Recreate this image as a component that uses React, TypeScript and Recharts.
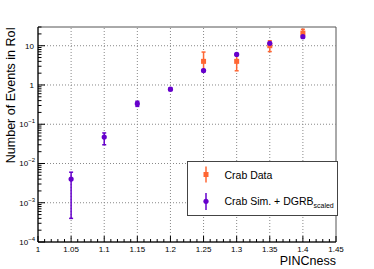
import React from 'react';
import { ScatterChart, Scatter, XAxis, YAxis, ErrorBar, ReferenceLine, ReferenceArea } from 'recharts';

const seriesNames = ['Crab Data', 'Crab Sim. + DGRB'];
const seriesSub = ['', 'scaled'];
const seriesColors = ['#ff6633', '#6600cc'];

const dataX = [1.25, 1.3, 1.35, 1.4];
const dataY = [4, 4, 10, 21];
const dataErrLow = [1.6, 1.7, 2.9, 3.5];
const dataErrHigh = [2.9, 1.9, 3.4, 5.2];

const simX = [1.05, 1.1, 1.15, 1.2, 1.25, 1.3, 1.35, 1.4];
const simY = [0.004, 0.047, 0.335, 0.78, 2.33, 6.0, 11.5, 17];
const simErrLow = [0.0036, 0.017, 0.05, 0.06, 0.15, 0.3, 0.6, 0.9];
const simErrHigh = [0.002, 0.013, 0.05, 0.06, 0.15, 0.3, 0.6, 0.9];

const xMajorTicks = [1, 1.05, 1.1, 1.15, 1.2, 1.25, 1.3, 1.35, 1.4, 1.45];
const xMinorPerMajor = [0.01, 0.02, 0.03, 0.04];
const yDecades = [1e-4, 1e-3, 1e-2, 1e-1, 1, 10];
const yMinorMultipliers = [2, 3, 4, 5, 6, 7, 8, 9];
const xDomain = [1, 1.45];
const yDomain = [1e-4, 30];

const xTicks: number[] = [];
xMajorTicks.forEach((m, i) => {
  xTicks.push(m);
  if (i < xMajorTicks.length - 1) xMinorPerMajor.forEach((d) => xTicks.push(+(m + d).toFixed(3)));
});
const yTicks: number[] = [];
yDecades.forEach((d) => {
  yTicks.push(d);
  yMinorMultipliers.forEach((k) => {
    const v = k * d;
    if (v <= yDomain[1]) yTicks.push(v);
  });
});

const crabData = dataX.map((x, i) => ({ x, y: dataY[i], err: [dataErrLow[i], dataErrHigh[i]] }));
const simData = simX.map((x, i) => ({ x, y: simY[i], err: [simErrLow[i], simErrHigh[i]] }));

const FONT = '"Liberation Sans", Arial, Helvetica, sans-serif';

const XTick = (props: any) => {
  const { x, y, payload } = props;
  const v = payload.value;
  const major = Math.abs(v * 20 - Math.round(v * 20)) < 1e-6;
  return (
    <g>
      <line x1={x} x2={x} y1={y} y2={y - (major ? 6 : 3)} stroke="#000" strokeWidth={1} />
      {major && (
        <text x={x} y={y + 9.5} textAnchor="middle" fontSize={8} fontFamily={FONT} fill="#000">
          {String(Number(v.toFixed(2)))}
        </text>
      )}
    </g>
  );
};

const YTick = (props: any) => {
  const { x, y, payload } = props;
  const v = payload.value;
  const lg = Math.log10(v);
  const e = Math.round(lg);
  const major = Math.abs(lg - e) < 1e-6;
  let label: any = null;
  if (major) {
    if (e === 0 || e === 1) {
      label = (
        <text x={x - 4} y={y + 3} textAnchor="end" fontSize={8} fontFamily={FONT} fill="#000">
          {e === 0 ? '1' : '10'}
        </text>
      );
    } else {
      label = (
        <text x={x - 3} y={y + 3} textAnchor="end" fontSize={8} fontFamily={FONT} fill="#000">
          10
          <tspan fontSize={6} dy={-4}>{'\u2212' + String(-e)}</tspan>
        </text>
      );
    }
  }
  return (
    <g>
      <line x1={x} x2={x + (major ? 7 : 3.5)} y1={y} y2={y} stroke="#000" strokeWidth={1} />
      {label}
    </g>
  );
};

const squareShape = (color: string) => (p: any) => (
  <rect x={p.cx - 2.5} y={p.cy - 2.5} width={5} height={5} fill={color} />
);
const circleShape = (color: string) => (p: any) => <circle cx={p.cx} cy={p.cy} r={2.6} fill={color} />;

export default function App() {
  return (
    <div style={{ position: 'absolute', left: 0, top: 0, width: 374, height: 269, background: '#fff' }}>
      <ScatterChart width={374} height={269} margin={{ top: 27, right: 38, left: 0, bottom: 0 }}>
        <ReferenceArea
          x1={xDomain[0]}
          x2={xDomain[1]}
          y1={yDomain[0]}
          y2={yDomain[1]}
          fill="none"
          stroke="#555"
          strokeWidth={1}
          ifOverflow="visible"
        />
        {yDecades.slice(1).map((d) => (
          <ReferenceLine key={'gy' + d} y={d} stroke="#888" strokeDasharray="1 2" strokeWidth={1} />
        ))}
        {xMajorTicks.slice(1, -1).map((v) => (
          <ReferenceLine key={'gx' + v} x={v} stroke="#888" strokeDasharray="1 2" strokeWidth={1} />
        ))}
        <XAxis
          type="number"
          dataKey="x"
          domain={xDomain}
          allowDataOverflow
          ticks={xTicks}
          interval={0}
          tickSize={0}
          tickMargin={0}
          tickLine={false}
          tick={<XTick />}
          height={27}
          axisLine={{ stroke: '#000' }}
          label={{
            content: () => (
              <text x={336} y={265} textAnchor="end" fontSize={12.5} fontFamily={FONT} fill="#000">
                PINCness
              </text>
            ),
          }}
        />
        <YAxis
          type="number"
          dataKey="y"
          scale="log"
          domain={yDomain}
          allowDataOverflow
          ticks={yTicks}
          interval={0}
          tickSize={0}
          tickMargin={0}
          tickLine={false}
          tick={<YTick />}
          width={38}
          axisLine={{ stroke: '#000' }}
          label={{
            content: () => (
              <text
                x={15}
                y={27}
                transform="rotate(-90 15 27)"
                textAnchor="end"
                fontSize={12.5}
                fontFamily={FONT}
                fill="#000"
              >
                Number of Events in RoI
              </text>
            ),
          }}
        />
        <Scatter data={crabData} isAnimationActive={false} shape={squareShape(seriesColors[0])}>
          <ErrorBar dataKey="err" direction="y" width={2} strokeWidth={1.5} stroke={seriesColors[0]} isAnimationActive={false} />
        </Scatter>
        <Scatter data={simData} isAnimationActive={false} shape={circleShape(seriesColors[1])}>
          <ErrorBar dataKey="err" direction="y" width={2} strokeWidth={1.5} stroke={seriesColors[1]} isAnimationActive={false} />
        </Scatter>
      </ScatterChart>
      <svg
        width={151}
        height={55}
        style={{ position: 'absolute', left: 186.5, top: 161, overflow: 'visible' }}
      >
        <rect x={0.5} y={0.5} width={150} height={54} fill="#fff" stroke="#444" strokeWidth={1} />
        <line x1={19} x2={19} y1={5.5} y2={21.5} stroke={seriesColors[0]} strokeWidth={1.5} />
        <rect x={16.5} y={11} width={5} height={5} fill={seriesColors[0]} />
        <text x={37.5} y={18} fontSize={10.5} fontFamily={FONT} fill="#000">
          {seriesNames[0]}
        </text>
        <line x1={19} x2={19} y1={32} y2={49} stroke={seriesColors[1]} strokeWidth={1.5} />
        <circle cx={19} cy={40.3} r={2.6} fill={seriesColors[1]} />
        <text x={37.5} y={44} fontSize={10.5} fontFamily={FONT} fill="#000">
          {seriesNames[1]}
          <tspan fontSize={7} dy={3}>{seriesSub[1]}</tspan>
        </text>
      </svg>
    </div>
  );
}
